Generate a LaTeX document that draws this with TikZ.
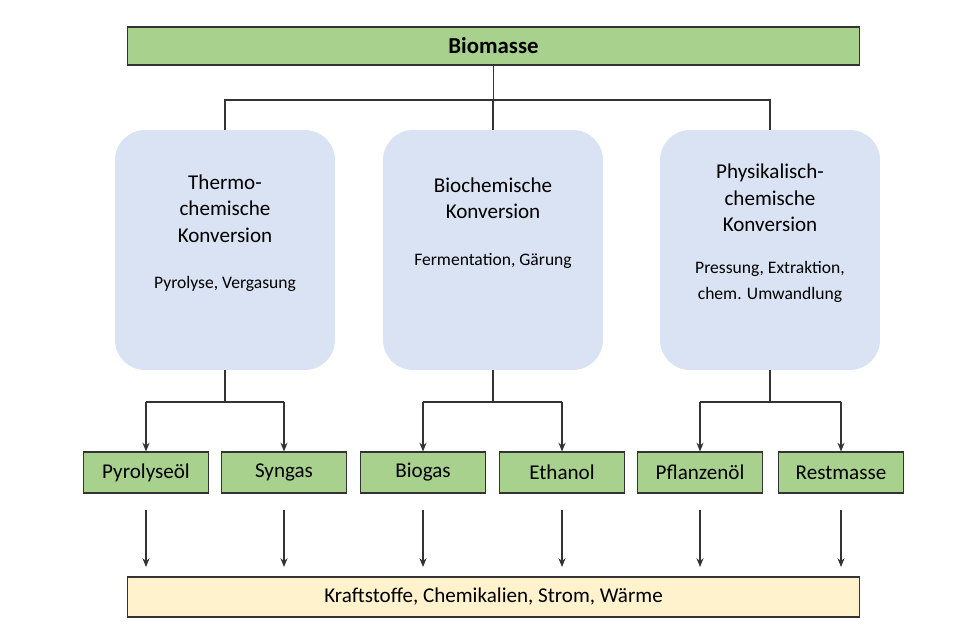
\documentclass[tikz,border=0pt]{standalone}
\usepackage{fontspec}
\setmainfont{Carlito}
\usetikzlibrary{arrows.meta, positioning}
\definecolor{gruen}{HTML}{A9D18E}
\definecolor{blau}{HTML}{DAE3F3}
\definecolor{gelb}{HTML}{FFF2CC}
\tikzset{%
	every produkt/.style={
		draw=black!80, fill=gruen, line width=0.6pt,
		minimum width=2.5cm, minimum height=0.82cm,
		inner sep=0pt, font=\fontsize{12}{14}\selectfont
	},
	verfahren/.style={
		fill=blau, rounded corners=0.6cm,
		minimum width=4.4cm, minimum height=4.8cm,
		align=center, font=\fontsize{12}{15}\selectfont
	},
	linie/.style={line width=0.6pt, black!80},
	pfeil/.style={linie, -{Stealth[length=5pt,width=4pt]}},
}
\begin{document}
\begin{tikzpicture}[x=0.02cm, y=-0.02cm]
	\useasboundingbox (0,0) rectangle (972,625);
	% Kopf und Fuss
	\node[every produkt, minimum width=14.66cm, minimum height=0.76cm, font=\fontsize{13}{15}\selectfont\bfseries] (bio) at (493.5,46) {Biomasse};
	\node[every produkt, fill=gelb, minimum width=14.66cm, minimum height=0.8cm] (ziel) at (493.5,597) {Kraftstoffe, Chemikalien, Strom, Wärme};
	
	% Konversionswege
	\node[verfahren] (thermo) at (225,250) {Thermo-\\chemische\\Konversion\\[2ex]{\fontsize{10}{13}\selectfont Pyrolyse, Vergasung}\\[1ex]};
	\node[verfahren] (bioch) at (493,250) {Biochemische\\Konversion\\[2ex]{\fontsize{10}{13}\selectfont Fermentation, Gärung}\\[3ex]};
	\node[verfahren] (phys) at (770,250) {Physikalisch-\\chemische\\Konversion\\[1.5ex]{\fontsize{10}{14}\selectfont Pressung, Extraktion,}\\{\fontsize{10}{13}\selectfont chem. Umwandlung}\\[1ex]};
	
	\coordinate (k) at (493.5,100);
	\draw[linie] (bio.south) -- (k);
	\foreach \v in {thermo, bioch, phys} {
		\draw[linie] (k) -| (\v.north);
	}
	
	% Produkte
	\foreach \name/\txt/\x/\v in {pyro/Pyrolyseöl/146/thermo, syn/Syngas/284/thermo, biog/Biogas/423/bioch, eth/Ethanol/562/bioch, pfl/Pflanzenöl/700/phys, rest/Restmasse/841/phys} {
		\node[every produkt] (\name) at (\x,472.5) {\txt};
		\coordinate (\name-o) at (\x,402);
		\draw[linie] (\v.south) |- (\name-o);
		\draw[pfeil] (\name-o) -- (\name.north);
		\coordinate (\name-a) at (\x,510);
		\draw[pfeil] (\name-a) -- (\x,567);
	}
\end{tikzpicture}
\end{document}
